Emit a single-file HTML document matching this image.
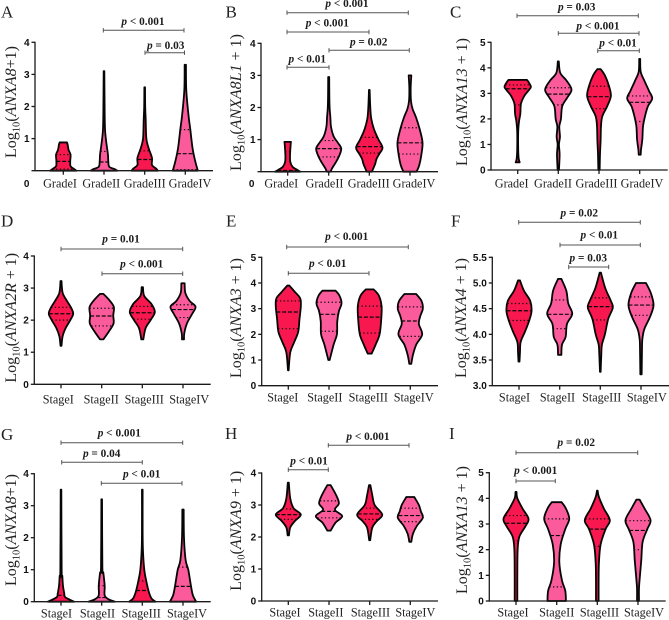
<!DOCTYPE html>
<html lang="en">
<head>
<meta charset="utf-8">
<title>ANXA expression violin plots</title>
<style>
html,body{margin:0;padding:0;background:#fff;}
svg{display:block;}
text{font-family:"Liberation Serif",serif;}
.tick{font-family:"Liberation Sans",sans-serif;font-weight:700;font-size:10px;fill:#111;}
.cat{font-size:12.2px;fill:#222;}
.ytitle{font-size:16px;fill:#222;}
.plabel{font-size:11.3px;font-weight:700;fill:#1c1c1c;}
.letter{font-size:17px;fill:#222;}
</style>
</head>
<body>
<svg id="figure" width="669" height="620" viewBox="0 0 669 620" xmlns="http://www.w3.org/2000/svg"></svg>
<script>
// ---------- Category labels ----------
const gradeCategories = ['GradeI', 'GradeII', 'GradeIII', 'GradeIV'];
const stageCategories = ['StageI', 'StageII', 'StageIII', 'StageIV'];

// ---------- Tick labels ----------
const ticksZeroToFour = [0, 1, 2, 3, 4];
const ticksZeroToFive = [0, 1, 2, 3, 4, 5];
const ticksThreeToFive = [3.0, 3.5, 4.0, 4.5, 5.0, 5.5];

// ---------- Violin profiles: one list per group, each [log value, relative density] ----------
const violinsA = [
  [[0,40],[0.05,33],[0.14,22],[0.3,21],[0.5,22],[0.65,16],[0.82,13],[0.88,11]],
  [[0,40],[0.05,32],[0.12,16],[0.3,13],[0.5,12],[0.8,8],[1.05,5],[1.3,3],[1.8,2],[3.1,1]],
  [[0,40],[0.07,34],[0.18,22],[0.4,22],[0.7,12],[1.0,5],[1.6,3],[2.0,1.5],[2.6,1]],
  [[0,38],[0.3,30],[0.7,22],[1.3,15],[1.7,10],[2.5,3],[3.3,2]]
];
const violinsB = [
  [[0,38],[0.05,30],[0.15,15],[0.3,8],[0.5,7],[0.85,9],[0.93,10]],
  [[0,6],[0.1,10],[0.3,22],[0.5,32],[0.72,38],[0.9,28],[1.1,15],[1.4,7],[1.7,5],[1.95,3],[2.3,2],[2.95,1.5]],
  [[0,8],[0.1,12],[0.25,18],[0.4,22],[0.55,30],[0.75,40],[1.0,28],[1.3,15],[1.65,6],[2,3],[2.55,1]],
  [[0,20],[0.2,28],[0.5,34],[0.9,38],[1.3,30],[1.7,18],[1.95,8],[2.2,3],[2.6,2],[3.0,4]]
];
const violinsC = [
  [[0.3,6],[0.45,3],[0.8,1.5],[1.5,1.5],[1.9,4],[2.2,8],[2.6,10],[2.9,20],[3.1,32],[3.25,40],[3.4,35],[3.53,28]],
  [[0,2],[0.6,4],[1,2],[1.3,5],[1.7,3],[2.0,8],[2.5,12],[2.85,28],[3.15,40],[3.5,25],[3.8,6],[4.25,1.5]],
  [[0,2],[0.6,3],[1.2,5],[1.7,6],[2.1,10],[2.5,25],[2.9,36],[3.3,30],[3.7,18],[3.95,5]],
  [[0.6,3],[0.8,4],[1.2,8],[1.7,10],[2.1,16],[2.5,25],[2.8,38],[3.1,28],[3.5,14],[3.85,3],[4.35,1.5]]
];
const violinsD = [
  [[1.2,1.5],[1.5,5],[1.75,14],[2,28],[2.2,37],[2.4,30],[2.6,18],[2.85,5],[3.22,1.5]],
  [[1.4,5],[1.65,22],[1.9,36],[2.15,35],[2.4,37],[2.6,25],[2.82,5]],
  [[1.4,3],[1.75,10],[2.0,25],[2.25,38],[2.5,28],[2.75,6],[3.03,2]],
  [[1.4,3],[1.6,4],[1.9,12],[2.2,28],[2.42,38],[2.6,20],[2.85,7],[3.15,5]]
];
const violinsE = [
  [[0.6,1],[1.3,6],[1.7,18],[2.1,30],[2.6,34],[3.1,38],[3.4,36],[3.65,20],[3.9,3]],
  [[1.0,2],[1.6,14],[2,24],[2.5,25],[2.9,30],[3.2,38],[3.5,32],[3.7,20]],
  [[1.25,6],[1.6,18],[2.0,30],[2.6,35],[3.1,36],[3.5,28],[3.75,12]],
  [[0.85,3],[1.2,8],[1.6,18],[2,36],[2.4,26],[2.7,30],[3.0,38],[3.3,34],[3.57,18]]
];
const violinsF = [
  [[3.47,1.5],[3.65,3],[3.85,5],[4.05,18],[4.25,30],[4.45,38],[4.65,34],[4.85,15],[5.05,3]],
  [[3.6,5],[3.8,7],[3.95,18],[4.2,22],[4.4,38],[4.6,26],[4.85,20],[5.08,5]],
  [[3.27,1],[3.6,3],[3.8,5],[4.0,14],[4.3,24],[4.52,38],[4.65,32],[4.9,15],[5.2,2]],
  [[3.22,2],[3.7,3],[3.9,4],[4.1,10],[4.35,28],[4.57,38],[4.8,30],[5.0,15]]
];
const violinsG = [
  [[0,40],[0.07,25],[0.15,12],[0.25,10],[0.5,6],[0.8,4],[1.0,2],[3.5,1]],
  [[0,40],[0.08,20],[0.2,9],[0.5,9],[0.9,5],[1.1,2],[3.2,1]],
  [[0,40],[0.1,28],[0.3,20],[0.6,13],[1.0,6],[1.6,2],[2.2,1],[3.5,1]],
  [[0,40],[0.2,30],[0.5,24],[1.0,16],[1.3,8],[2,3],[2.88,2]]
];
const violinsH = [
  [[2.05,2],[2.3,6],[2.5,20],[2.7,38],[2.9,16],[3.2,6],[3.7,1.5]],
  [[2.2,5],[2.45,20],[2.65,40],[2.85,18],[3.05,30],[3.3,22],[3.62,5]],
  [[1.9,1.5],[2.3,8],[2.5,22],[2.7,38],[3.0,15],[3.3,8],[3.62,2]],
  [[1.85,3],[2.1,8],[2.35,20],[2.6,38],[2.8,32],[3.0,26],[3.25,12]]
];
const violinsI = [
  [[0,4],[1,4],[2.0,5],[2.5,10],[2.9,28],[3.2,38],[3.6,20],[4.0,4],[4.25,1.5]],
  [[0,28],[0.4,26],[0.8,16],[1.5,8],[2.2,12],[2.8,26],[3.2,38],[3.6,28],[3.85,15]],
  [[0,4],[0.8,4],[1.5,5],[2.2,10],[2.8,25],[3.15,38],[3.6,20],[4.05,5],[4.3,1]],
  [[0,3],[0.5,3],[1.0,6],[1.6,10],[2.3,14],[2.8,28],[3.15,38],[3.6,20],[3.95,5]]
];

// ---------- Quartiles per group: [lower quartile, median, upper quartile] ----------
const quartilesA = [[0.05,0.29,0.5],[0,0.27,0.6],[0,0.35,0.62],[0.03,0.53,1.28]];
const quartilesB = [[0,0.04,0.62],[0.46,0.72,0.97],[0.58,0.78,1.07],[0.55,0.9,1.37]];
const quartilesC = [[2.55,3.18,3.33],[2.55,2.97,3.22],[2.4,2.87,3.28],[1.9,2.65,2.9]];
const quartilesD = [[2.0,2.2,2.4],[1.82,2.13,2.37],[2.03,2.23,2.43],[2.08,2.33,2.48]];
const quartilesE = [[2.22,2.87,3.3],[2.12,2.78,3.25],[2.05,2.67,3.1],[1.92,2.52,3.07]];
const quartilesF = [[4.27,4.46,4.6],[4.11,4.39,4.67],[4.28,4.54,4.71],[4.37,4.57,4.73]];
const quartilesG = [[0,0.2,0.52],[0,0.13,0.5],[0,0.35,0.65],[0,0.48,1.08]];
const quartilesH = [[2.55,2.7,2.88],[2.6,2.8,3.13],[2.55,2.72,2.9],[2.48,2.67,2.9]];
const quartilesI = [[2.35,3.03,3.33],[0.55,2.55,3.2],[2.13,2.8,3.2],[2.0,2.75,3.13]];

// ---------- Significance labels per panel ----------
const pLabelsA = ['< 0.001', '= 0.03'];
const pLabelsB = ['< 0.001', '< 0.001', '= 0.02', '< 0.01'];
const pLabelsC = ['= 0.03', '< 0.001', '< 0.01'];
const pLabelsD = ['= 0.01', '< 0.001'];
const pLabelsE = ['< 0.001', '< 0.01'];
const pLabelsF = ['= 0.02', '< 0.01', '= 0.03'];
const pLabelsG = ['< 0.001', '= 0.04', '< 0.01'];
const pLabelsH = ['< 0.001', '< 0.01'];
const pLabelsI = ['= 0.02', '< 0.001'];

// ---------- Panel layout (pixels) ----------
const layout = [
  {id:'A',axisX:35,xEnd:213,yTop:42.3,yBot:170.7,centers:[63.3,104,144.7,185.3],catX:[60,101.3,144.7,190],catY:187.5,cats:gradeCategories,ticks:ticksZeroToFour,zeroBelow:[26.7,187],violins:violinsA,quartiles:quartilesA,
   letter:[1,17.3],title:[16,102],gene:'ANXA8',suffix:'+1)',brackets:[[103.3,184,30.3,143,25],[145,184.5,52.7,165.7,49]],pLabels:pLabelsA},
  {id:'B',axisX:261,xEnd:438,yTop:43.3,yBot:171.7,centers:[287.7,328.7,369.3,410],catX:[281.3,324.5,368.7,414],catY:187.3,cats:gradeCategories,ticks:ticksZeroToFour,zeroBelow:[251.7,187],violins:violinsB,quartiles:quartilesB,
   letter:[225.5,17.3],title:[241,102.5],gene:'ANXA8L1',suffix:' + 1)',brackets:[[287,408.3,12.7,347,7],[287,369,32,327.3,26.7],[329,409.3,50.3,368.7,45.7],[287,329,67.3,307.3,62.3]],pLabels:pLabelsB},
  {id:'C',axisX:491,xEnd:667.7,yTop:42.3,yBot:170,centers:[517.7,558.3,599,639.7],catX:[511.7,553,596.5,642],catY:187.3,cats:gradeCategories,ticks:ticksZeroToFive,violins:violinsC,quartiles:quartilesC,
   letter:[450,17.3],title:[467,102],gene:'ANXA13',suffix:' + 1)',brackets:[[517,638.3,15.7,576.7,10.3],[558.3,639,33.3,598,29.3],[597.7,639.3,50.7,618,46.7]],pLabels:pLabelsC},
  {id:'D',axisX:34.3,xEnd:210.7,yTop:256,yBot:384.3,centers:[61,101.7,142.3,183],catX:[58.3,101.2,144.2,189.2],catY:403.3,cats:stageCategories,ticks:ticksZeroToFour,violins:violinsD,quartiles:quartilesD,
   letter:[1,226.7],title:[16,317.8],gene:'ANXA2R',suffix:' + 1)',brackets:[[61,182.7,249,121,242.3],[102,182.7,273.7,141.7,267.7]],pLabels:pLabelsD},
  {id:'E',axisX:261.7,xEnd:438,yTop:257.3,yBot:385.7,centers:[288.3,329,369.7,410.3],catX:[282.8,324.8,368.3,413.7],catY:401.7,cats:stageCategories,ticks:ticksZeroToFive,violins:violinsE,quartiles:quartilesE,
   letter:[226,226.7],title:[241,318],gene:'ANXA3',suffix:' + 1)',brackets:[[286.7,408.3,247,346.7,240],[288.3,369,273.3,327.7,267]],pLabels:pLabelsE},
  {id:'F',axisX:492.3,xEnd:669,yTop:257.3,yBot:385.7,centers:[519,559.7,600.3,641],catX:[514.5,557.5,601.7,646.8],catY:401.7,cats:stageCategories,ticks:ticksThreeToFive,violins:violinsF,quartiles:quartilesF,
   letter:[451,226.7],title:[466,318],gene:'ANXA4',suffix:' + 1)',brackets:[[518.7,640.3,222.3,579.3,216.7],[560,640.3,245,599.3,238.7],[568.7,608.7,267,588.3,261.7]],pLabels:pLabelsF},
  {id:'G',axisX:34.3,xEnd:210.7,yTop:473.7,yBot:601.7,centers:[61,101.7,142.3,183],catX:[56.5,97.5,141.2,187],catY:617.3,cats:stageCategories,ticks:ticksZeroToFour,violins:violinsG,quartiles:quartilesG,
   letter:[1,440],title:[16,530],gene:'ANXA8',suffix:'+1)',brackets:[[61,182.7,442.7,119.3,436.7],[61.7,142.3,462.3,101.7,457],[101.3,182,483.3,141.7,477.7]],pLabels:pLabelsG},
  {id:'H',axisX:261.7,xEnd:438,yTop:473,yBot:601,centers:[288.3,329,369.7,410.3],catX:[285,325.8,370.5,415.3],catY:616.7,cats:stageCategories,ticks:ticksZeroToFour,violins:violinsH,quartiles:quartilesH,
   letter:[225,439],title:[241,530.8],gene:'ANXA9',suffix:' + 1)',brackets:[[328.3,409,445.3,368,440],[288.3,328.3,469.7,309,464.3]],pLabels:pLabelsH},
  {id:'I',axisX:489.3,xEnd:665.7,yTop:472.7,yBot:601,centers:[516,556.7,597.3,638],catX:[513,556.7,599.5,644],catY:616.7,cats:stageCategories,ticks:ticksZeroToFive,violins:violinsI,quartiles:quartilesI,
   letter:[449,439],title:[467,530],gene:'ANXA13',suffix:' + 1)',brackets:[[516,637.7,452.7,576.3,446],[516,555.3,481,535.7,474]],pLabels:pLabelsI}
];
const NS = 'http://www.w3.org/2000/svg';
const groupColors = ['#f8174f', '#fb5a9b'];
const figure = document.getElementById('figure');

function make(tag, attrs, parent) {
  const el = document.createElementNS(NS, tag);
  for (const k in attrs) el.setAttribute(k, attrs[k]);
  parent.appendChild(el);
  return el;
}
function lineEl(x1, y1, x2, y2, stroke, width, parent) {
  return make('line', {x1, y1, x2, y2, stroke, 'stroke-width': width}, parent);
}
function yScaleFor(p) {
  const lo = p.ticks[0], hi = p.ticks[p.ticks.length - 1];
  return v => p.yBot - (v - lo) / (hi - lo) * (p.yBot - p.yTop);
}
// relative density -> half width in pixels
function widthScale(d) { return d / 40 * 13.2; }
function densityAt(profile, v) {
  if (v <= profile[0][0]) return profile[0][1];
  for (let i = 1; i < profile.length; i++) {
    if (v <= profile[i][0]) {
      const a = profile[i - 1], b = profile[i];
      return a[1] + (b[1] - a[1]) * (v - a[0]) / (b[0] - a[0]);
    }
  }
  return profile[profile.length - 1][1];
}
function smooth(pts) {
  let d = '';
  for (let i = 0; i < pts.length - 1; i++) {
    const p0 = pts[Math.max(i - 1, 0)], p1 = pts[i], p2 = pts[i + 1], p3 = pts[Math.min(i + 2, pts.length - 1)];
    const c1x = p1[0] + (p2[0] - p0[0]) / 6, c1y = p1[1] + (p2[1] - p0[1]) / 6;
    const c2x = p2[0] - (p3[0] - p1[0]) / 6, c2y = p2[1] - (p3[1] - p1[1]) / 6;
    d += 'C' + c1x.toFixed(2) + ' ' + c1y.toFixed(2) + ' ' + c2x.toFixed(2) + ' ' + c2y.toFixed(2) + ' ' + p2[0].toFixed(2) + ' ' + p2[1].toFixed(2);
  }
  return d;
}
function violinPath(profile, cx, y) {
  const right = profile.map(q => [cx + widthScale(q[1]), y(q[0])]);
  const left = profile.slice().reverse().map(q => [cx - widthScale(q[1]), y(q[0])]);
  return 'M' + right[0][0].toFixed(2) + ' ' + right[0][1].toFixed(2) + smooth(right) +
    'L' + left[0][0].toFixed(2) + ' ' + left[0][1].toFixed(2) + smooth(left) + 'Z';
}

layout.forEach(function (p) {
  const y = yScaleFor(p);
  const key = p.id.toLowerCase();
  const panel = make('g', {}, figure);
  
  

  const letter = make('text', {x: p.letter[0], y: p.letter[1], class: 'letter'}, panel);
  letter.textContent = p.id;
  
  

  // violins
  p.violins.forEach(function (profile, i) {
    const cx = p.centers[i];
    const g = make('g', {}, panel);
    
    
    make('path', {d: violinPath(profile, cx, y), fill: groupColors[i % 2], stroke: '#050505', 'stroke-width': 1.8, 'stroke-linejoin': 'round'}, g);
    p.quartiles[i].forEach(function (q, j) {
      const w = widthScale(densityAt(profile, q));
      const l = lineEl(cx - w, y(q), cx + w, y(q), '#0a0a0a', 1.2, g);
      l.setAttribute('stroke-dasharray', j === 1 ? '4 1.8' : '1.3 2.4');
      
      
    });
  });

  // axes
  const yAxis = lineEl(p.axisX, p.yTop - 0.6, p.axisX, p.yBot + 0.6, '#1a1a1a', 1.3, panel);
  
  
  const xAxis = lineEl(p.axisX, p.yBot, p.xEnd, p.yBot, '#1a1a1a', 1.3, panel);
  
  

  p.ticks.forEach(function (t) {
    const tk = lineEl(p.axisX - 3.5, y(t), p.axisX, y(t), '#1a1a1a', 1.3, panel);
    
    
    const below = p.zeroBelow && t === p.ticks[0];
    const label = make('text', {
      x: below ? p.zeroBelow[0] : p.axisX - 5.5,
      y: below ? p.zeroBelow[1] : y(t) + 3.5,
      class: 'tick',
      'text-anchor': below ? 'middle' : 'end'
    }, panel);
    label.textContent = p.ticks === ticksThreeToFive ? t.toFixed(1) : String(t);
    
    
  });

  p.cats.forEach(function (c, i) {
    const tk = lineEl(p.centers[i], p.yBot, p.centers[i], p.yBot + 4, '#1a1a1a', 1.3, panel);
    
    
    const label = make('text', {x: p.catX[i], y: p.catY, class: 'cat', 'text-anchor': 'middle'}, panel);
    label.textContent = c;
    
    
  });

  // y-axis title
  const title = make('text', {class: 'ytitle', 'text-anchor': 'middle', transform: 'translate(' + p.title[0] + ' ' + p.title[1] + ') rotate(-90)'}, panel);
  
  
  const parts = [
    ['Log', {}], ['10', {dy: 3.5, 'font-size': 10.5}], ['(', {dy: -3.5}],
    [p.gene, {'font-style': 'italic'}], [p.suffix, {}]
  ];
  parts.forEach(function (part) {
    const s = make('tspan', part[1], title);
    s.textContent = part[0];
  });

  // significance brackets
  p.brackets.forEach(function (b, i) {
    const g = make('g', {}, panel);
    
    
    lineEl(b[0], b[2], b[1], b[2], '#555', 1, g);
    lineEl(b[0], b[2] - 2.2, b[0], b[2] + 2.2, '#555', 1, g);
    lineEl(b[1], b[2] - 2.2, b[1], b[2] + 2.2, '#555', 1, g);
    const t = make('text', {x: b[3], y: b[4], class: 'plabel', 'text-anchor': 'middle'}, g);
    const it = make('tspan', {'font-style': 'italic'}, t);
    it.textContent = 'p';
    const rest = make('tspan', {}, t);
    rest.textContent = ' ' + p.pLabels[i];
    
    
  });
});
</script>
</body>
</html>
